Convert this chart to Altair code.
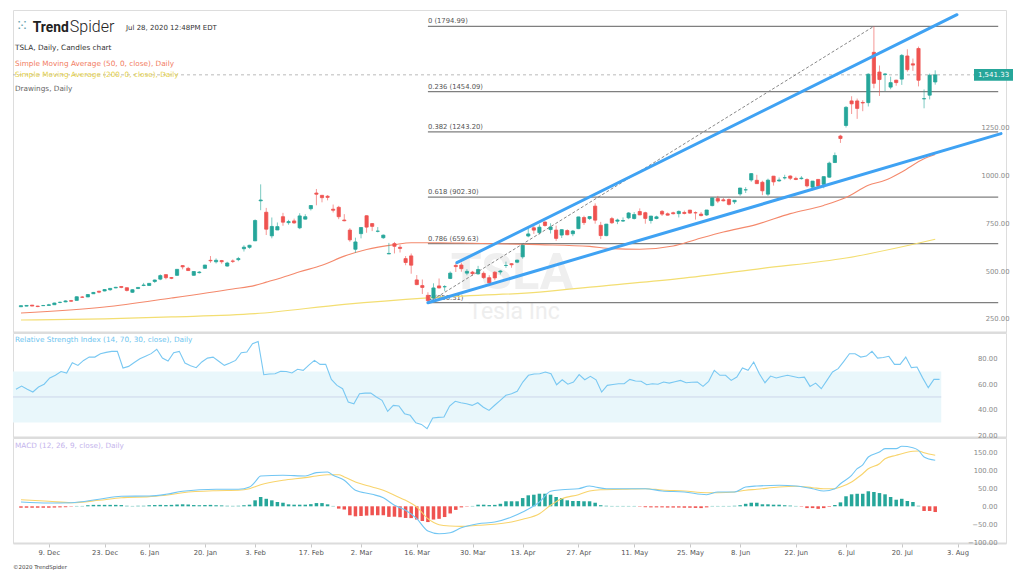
import altair as alt
import pandas as pd

# ---------------- data ----------------
opens = [329.4, 332.6, 337.8, 332.8, 335.0, 336.6, 340.0, 351.9, 354.9, 361.1,
         362.6, 380.0, 380.6, 397.3, 410.3, 411.8, 418.4, 427.9, 435.0, 428.8,
         405.0, 424.5, 440.5, 440.5, 461.4, 473.7, 497.1, 481.8, 493.5, 544.3,
         529.8, 493.8, 507.6, 530.3, 571.9, 564.3, 570.6, 542.0, 568.5, 575.7,
         632.4, 640.0, 673.7, 883.0, 823.3, 699.9, 730.6, 800.0, 768.8, 777.9,
         741.8, 787.2, 841.6, 923.5, 911.7, 907.0, 839.0, 849.0, 782.5, 730.0,
         629.7, 711.3, 805.0, 764.0, 723.8, 690.0, 605.4, 659.4, 640.2, 580.9,
         595.0, 469.5, 440.0, 389.0, 374.7, 438.2, 433.6, 477.3, 545.3, 547.4,
         505.0, 510.3, 501.3, 504.0, 481.0, 509.5, 511.2, 545.0, 554.2, 562.1,
         590.2, 699.0, 742.0, 716.9, 772.3, 732.7, 730.1, 704.0, 727.6, 710.8,
         737.6, 795.6, 790.2, 855.2, 755.0, 701.0, 789.8, 776.5, 777.2, 793.8,
         790.5, 827.0, 820.8, 780.0, 790.4, 827.8, 815.2, 820.5, 816.0, 822.2,
         834.5, 820.9, 813.5, 808.8, 858.0, 894.7, 888.1, 889.9, 877.8, 919.0,
         940.0, 991.9, 990.2, 980.0, 917.8, 1011.9, 987.0, 1003.0, 1012.6, 1000.0,
         998.9, 994.1, 954.3, 994.8, 969.0, 1006.5, 1083.0, 1221.5, 1276.7, 1405.0,
         1405.0, 1397.0, 1396.0, 1659.0, 1556.0, 1543.0, 1477.2, 1513.5, 1519.0, 1639.9,
         1599.0, 1679.0, 1416.0, 1435.0, 1504.0]
highs = [336.4, 337.9, 337.9, 334.4, 338.9, 344.5, 350.5, 356.1, 362.7, 365.2,
         383.6, 385.5, 395.2, 406.9, 413.0, 422.0, 425.5, 433.5, 435.3, 429.0,
         421.3, 430.7, 454.0, 451.6, 471.6, 498.5, 498.8, 484.9, 525.6, 547.4,
         537.8, 514.5, 515.7, 548.6, 594.5, 582.0, 573.9, 564.4, 576.8, 589.8,
         650.9, 653.0, 786.1, 969.0, 846.0, 795.8, 769.8, 820.0, 783.5, 789.8,
         818.0, 813.0, 860.0, 944.8, 912.0, 913.1, 863.5, 856.6, 813.3, 739.8,
         690.4, 743.7, 807.0, 766.5, 745.8, 707.0, 663.0, 668.0, 653.6, 594.5,
         607.6, 494.9, 471.9, 404.9, 452.0, 477.0, 442.0, 513.7, 557.0, 560.0,
         525.8, 516.7, 543.0, 514.0, 494.3, 515.5, 521.0, 565.0, 557.2, 575.2,
         652.0, 741.9, 753.1, 759.5, 775.0, 765.6, 753.3, 734.0, 734.0, 730.7,
         799.5, 805.0, 803.2, 869.8, 772.8, 762.0, 798.9, 789.8, 796.4, 824.0,
         824.0, 843.3, 826.0, 803.4, 805.1, 834.7, 822.1, 826.0, 832.5, 831.8,
         834.6, 827.7, 824.8, 835.0, 899.0, 908.7, 897.9, 895.8, 886.5, 950.0,
         954.4, 1027.5, 1019.0, 988.0, 998.8, 1012.9, 1005.0, 1019.1, 1016.0, 1008.9,
         1012.0, 1000.9, 986.0, 995.0, 1010.0, 1087.7, 1135.3, 1228.0, 1377.8, 1429.5,
         1417.3, 1408.6, 1548.9, 1795.0, 1590.0, 1550.0, 1531.7, 1515.5, 1650.0, 1675.0,
         1626.4, 1689.0, 1465.0, 1547.9, 1565.0]
lows = [328.7, 332.2, 332.9, 327.3, 334.8, 335.5, 339.5, 347.5, 353.2, 354.6,
        362.5, 375.9, 380.6, 396.5, 400.2, 410.0, 412.7, 426.4, 426.1, 409.3,
        402.1, 421.7, 436.9, 440.0, 453.4, 468.2, 472.9, 473.7, 492.0, 524.9,
        516.8, 492.2, 503.2, 528.4, 559.1, 555.6, 554.3, 539.3, 558.1, 567.4,
        618.0, 632.5, 673.5, 833.9, 704.1, 687.0, 730.0, 752.4, 758.0, 763.4,
        735.0, 785.5, 832.4, 859.6, 875.0, 885.4, 822.0, 787.0, 776.1, 669.0,
        611.5, 686.7, 716.1, 724.7, 718.1, 684.3, 605.0, 608.0, 613.0, 546.3,
        502.0, 442.2, 396.0, 350.5, 358.5, 425.8, 410.5, 474.0, 511.1, 512.3,
        494.0, 491.2, 497.0, 475.1, 446.4, 468.3, 498.0, 532.3, 533.3, 557.1,
        580.5, 692.4, 710.0, 706.7, 747.7, 712.2, 673.8, 688.7, 703.1, 698.2,
        735.0, 756.7, 783.2, 763.5, 683.0, 698.0, 762.2, 761.1, 772.4, 787.0,
        785.0, 808.0, 763.3, 764.0, 786.6, 803.9, 806.1, 811.8, 796.0, 812.0,
        815.7, 785.0, 801.7, 804.2, 854.1, 871.0, 880.1, 858.4, 866.2, 909.2,
        923.9, 982.5, 972.0, 912.6, 908.5, 962.4, 982.6, 994.5, 991.3, 991.0,
        994.0, 953.1, 937.2, 954.9, 948.5, 1003.7, 1080.5, 1185.6, 1266.0, 1336.7,
        1311.3, 1351.3, 1376.0, 1471.1, 1431.0, 1457.0, 1466.0, 1484.5, 1488.8, 1558.0,
        1562.0, 1480.9, 1366.5, 1413.0, 1490.0]
closes = [334.9, 336.2, 333.0, 330.4, 335.9, 339.5, 348.8, 352.7, 359.7, 358.4,
          381.5, 379.0, 393.2, 404.0, 405.6, 419.2, 425.3, 430.9, 430.4, 414.7,
          418.3, 430.3, 443.0, 451.5, 469.1, 492.1, 481.3, 478.2, 524.9, 537.9,
          518.5, 513.5, 510.5, 547.2, 569.6, 572.2, 564.8, 558.0, 566.9, 581.0,
          640.8, 650.6, 780.0, 887.1, 734.7, 749.0, 748.1, 771.3, 774.4, 767.3,
          804.0, 800.0, 858.4, 917.4, 899.4, 901.0, 833.8, 799.9, 778.8, 679.0,
          668.0, 743.6, 745.5, 749.5, 724.5, 703.5, 608.0, 645.3, 634.2, 560.6,
          546.6, 445.1, 430.2, 361.2, 427.6, 427.5, 434.3, 505.0, 539.3, 528.2,
          514.4, 502.1, 524.0, 481.6, 454.5, 480.0, 516.2, 545.5, 548.8, 573.0,
          651.0, 709.9, 729.8, 745.2, 753.9, 746.4, 686.7, 732.1, 705.6, 725.2,
          798.8, 769.1, 800.5, 781.9, 701.3, 761.2, 768.2, 782.6, 780.0, 819.4,
          811.3, 809.4, 791.0, 803.3, 799.2, 813.6, 808.0, 815.6, 827.6, 816.9,
          818.9, 820.2, 805.8, 835.0, 898.1, 881.6, 883.0, 864.4, 885.7, 949.9,
          940.7, 1025.1, 972.8, 935.3, 990.9, 982.1, 991.8, 1004.0, 1000.9, 994.3,
          1001.8, 960.9, 986.0, 959.7, 1009.4, 1079.8, 1119.6, 1208.7, 1371.6, 1389.9,
          1365.9, 1394.3, 1544.7, 1497.1, 1516.8, 1546.0, 1500.6, 1500.8, 1643.0, 1568.4,
          1592.3, 1513.1, 1417.0, 1539.6, 1541.33]

rsi_vals = [56, 58.6, 56, 53.9, 57.8, 60, 64.9, 67, 70, 68.8,
            76.9, 74.8, 78.7, 81.3, 81.3, 83.9, 85, 85.8, 85.8, 72.7,
            74, 77, 80, 82, 84, 87.4, 80.5, 78.2, 84.7, 85.8,
            76.6, 74.5, 73, 77.5, 80.5, 81.3, 78, 74.8, 76.6, 78.7,
            84.7, 85.3, 91.8, 93.6, 67.5, 68, 68.2, 70.1, 70, 68.8,
            71.7, 70.9, 75, 78.7, 75.6, 75.6, 63.8, 59.1, 56.5, 46,
            44.7, 52.5, 53, 53.1, 50, 47.4, 38.7, 43.4, 42.9, 36.9,
            35.6, 29.8, 28.5, 25.1, 33.5, 34, 34.3, 42.9, 46.6, 45.5,
            44.7, 43.4, 45.5, 42, 39.5, 43.5, 47.4, 51.3, 52.5, 54.4,
            61.7, 67, 68, 68.2, 69.6, 68.2, 59.6, 63.5, 60, 61.7,
            67.5, 63.5, 66.2, 63.5, 53.9, 59.1, 59.8, 60.4, 60.4, 63.8,
            62.5, 62.3, 59.6, 60.4, 60, 61.7, 60.9, 62, 63, 61.2,
            61.5, 61.7, 58.3, 62.3, 70.9, 67, 67, 63, 65.6, 72.7,
            70.9, 77.4, 68.2, 61.2, 66.4, 64.9, 66, 67, 66, 65.1,
            65.6, 58.3, 60.9, 56.5, 63, 69.6, 72.2, 78, 83.9, 83.9,
            81.3, 82.1, 85.8, 80.5, 81, 81.9, 75.6, 75.6, 81.3, 73,
            73.5, 65, 57.3, 63.8, 63.8]

hist_vals = [-4, -4, -4, -4, -4, -4, -3.5, -3, -2.5, -1,
             1, 1, 3, 4, 4, 4, 4, 4, 3.5, 1.5,
             1, 1.5, 1.5, 3, 3.5, 4, 3.5, 4, 5, 5.6,
             5, 3.5, 3, 3.5, 4, 3, 2.5, 1.5, 1.2, 1.5,
             3, 4.5, 16.7, 26, 21, 16.7, 12, 10, 5.5, 4.5,
             4.5, 4.5, 6, 9, 9, 5.5, 1, -6.5, -9, -25,
             -28, -27, -26, -25, -25, -25, -29.5, -29, -30.5, -32.5,
             -33, -37, -41, -44, -37, -35, -30, -20, -10, -3,
             -1, 1, 4.5, 4.5, 3.5, 4, 7, 14, 14, 14,
             23, 30.7, 32.4, 35.2, 35.2, 32.4, 26, 23, 16.7, 14.8,
             14.8, 14, 14, 10, 3, 1.5, 1, 1, 1, 1,
             1, -1, -2.5, -3, -3, -3, -3.5, -3.5, -3.5, -4,
             -4, -4.5, -5, -3, 1, 1, 1, 1, 1.5, 3,
             7, 10, 10, 5.6, 5.6, 4.5, 4.5, 3, 2, 1,
             -1, -5, -5, -7, -5, -1.5, 3.7, 11, 28, 33.5,
             35, 35, 42, 40, 37, 33.5, 26, 18.4, 21, 14.8,
             12, 1.5, -13, -13, -16]

macd_idx = [0, 5, 9, 14, 18, 23, 26, 29, 35, 39, 41, 42, 43, 47, 51, 53, 55, 56, 58, 60,
            63, 65, 67, 69, 71, 73, 75, 77, 79, 82, 85, 88, 90, 93, 95, 97, 100, 102, 103, 105,
            108, 112, 115, 119, 123, 125, 128, 130, 132, 136, 139, 142, 144, 146, 147, 149, 150,
            151, 152, 154, 155, 157, 158, 160, 161, 162, 164]
macd_vals = [12, 9.2, 10, 19.6, 28, 28.8, 33.5, 41.9, 47.5, 47.5, 53.9, 68, 84.6, 86.6, 84.6, 94, 95.8, 86.6, 72.6, 44.7,
             33.5, 24, 2.8, -11, -34.6, -69, -76.5, -73.7, -59.7, -48.6, -43.9, -30, -16, 12, 41.9, 46.4, 49.2, 56.7, 53.9, 49.2,
             49.2, 49.2, 42.7, 40, 32.4, 40, 40, 53.9, 56.7, 58.7, 56.7, 49.2, 42.7, 49.2, 63, 86.6, 105,
             116, 137.7, 151.7, 161, 161, 167.6, 163.7, 156.4, 137.7, 128.5]
sig_idx = [0, 5, 9, 14, 18, 23, 26, 29, 35, 39, 41, 43, 47, 51, 53, 55, 57, 58, 60, 63,
           65, 67, 69, 71, 73, 75, 77, 79, 82, 85, 88, 90, 93, 95, 97, 100, 102, 104, 108, 112,
           115, 119, 123, 125, 128, 130, 132, 136, 139, 142, 144, 146, 147, 149, 150, 151, 152, 154,
           155, 157, 158, 160, 161, 162, 164]
sig_vals = [18.4, 14, 10, 16.8, 24, 27, 30.7, 38, 43.6, 44.7, 49.2, 60.3, 72.6, 80, 84.6, 88.3, 88.3, 81.8, 67.9, 53.9,
            44.7, 30.7, 16.7, -2, -34.6, -51.3, -55, -56, -53, -50.3, -43.9, -36.3, -20.7, 2.8, 21.2, 32.4, 42.7, 46.4, 47.5, 49.2,
            45.5, 42.7, 38, 38, 40, 44.7, 47.5, 53.9, 55.9, 52, 49.2, 49.2, 53.9, 67.9, 79, 91, 105, 119,
            133, 142.5, 147, 153.6, 154.5, 149.7, 142.5]

sma50_idx = [0, 15, 27, 38, 42, 44, 48, 50, 54, 58, 62, 67, 70, 75, 81, 93, 102, 106, 111, 117,
             121, 126, 132, 138, 144, 148, 152, 155, 158, 162, 164]
sma50_vals = [297, 328, 375, 422, 441, 458, 493, 512, 546, 594, 629, 654, 664, 664, 661, 654, 645, 633, 630, 647,
              680, 720, 760, 816, 859, 900, 964, 990, 1034, 1103, 1125]
sma200_idx = [0, 15, 27, 42, 58, 73, 93, 105, 118, 133, 148, 164]
sma200_vals = [260, 266, 276, 293, 342, 376, 406, 440, 476, 530, 584, 682]

fib_ratios = ["0", "0.236", "0.382", "0.618", "0.786", "1"]
fib_values = [1794.99, 1454.09, 1243.20, 902.30, 659.63, 350.51]
fib_start, fib_end = 73, 175.3

swing_idx = [73, 153]
swing_vals = [350.51, 1794.99]
upper_idx = [78.2, 167.9]
upper_vals = [559.6, 1855.6]
lower_idx = [73, 175.8]
lower_vals = [350.51, 1234.0]

last_price = 1541.33
last_label = "1,541.33"

tick_idx = [5, 15, 23, 33, 42, 52, 61, 71, 81, 90, 100, 110, 120, 129, 139, 148, 158, 168]
tick_labels = ["9. Dec", "23. Dec", "6. Jan", "20. Jan", "3. Feb", "17. Feb", "2. Mar", "16. Mar",
               "30. Mar", "13. Apr", "27. Apr", "11. May", "25. May", "8. Jun", "22. Jun", "6. Jul",
               "20. Jul", "3. Aug"]

# ---------------- layout / style ----------------
W = 993
PRICE_H, RSI_H, MACD_H = 322, 104, 105
FONT = "DejaVu Sans"
UP, DOWN = "#26a69a", "#ef5350"

xs = alt.Scale(domain=[-0.53, 175.8], nice=False, zero=False)
ps = alt.Scale(domain=[197.4, 1880.2], nice=False, zero=False)
rs = alt.Scale(domain=[18.6, 100.2], nice=False, zero=False)
ms = alt.Scale(domain=[-102.5, 190.8], nice=False, zero=False)
dir_scale = alt.Scale(domain=["up", "down"], range=[UP, DOWN])

x_plain = alt.Axis(labels=False, ticks=False, grid=False, domainColor="#dcdcdc",
                   domainWidth=2, title=None)
label_js = ("[" + ",".join("'%s'" % s for s in tick_labels) + "][indexof(["
            + ",".join(str(t) for t in tick_idx) + "], datum.value)]")
x_bottom = alt.Axis(values=tick_idx, labelExpr=label_js, grid=False, domainColor="#dcdcdc",
                    domainWidth=2, tickColor="#c8c8c8", tickSize=4, labelPadding=2,
                    labelColor="#555", labelFont=FONT, labelFontSize=6.8, title=None,
                    labelOverlap=False, labelFlush=False)


def yaxis(values, offset, baseline="middle"):
    return alt.Axis(orient="right", values=values, format=".2f", grid=False, domain=False,
                    ticks=False, tickSize=0, labelPadding=0, offset=offset, labelAlign="right",
                    labelBaseline=baseline, labelColor="#8a8a8a", labelFont=FONT,
                    labelFontSize=6.8, title=None)


p_axis = yaxis([250, 500, 750, 1000, 1250], 3, "bottom")
r_axis = yaxis([20, 40, 60, 80], -9)
m_axis = yaxis([-100, -50, 0, 50, 100, 150], -9)


def X(f, axis):
    return alt.X(f, type="quantitative", scale=xs, axis=axis)


def Y(f, scale, axis):
    return alt.Y(f, type="quantitative", scale=scale, axis=axis)


def T(s, x, y, size=7.3, color="#333", weight="normal", font=FONT, align="left",
      baseline="alphabetic"):
    return alt.Chart(pd.DataFrame({"t": [s]})).mark_text(
        align=align, baseline=baseline, fontSize=size, color=color, fontWeight=weight, font=font
    ).encode(x=alt.value(x), y=alt.value(y), text="t:N")


# ---------------- price panel ----------------
n = len(closes)
cdf = pd.DataFrame({"i": list(range(n)), "open": opens, "high": highs, "low": lows, "close": closes})
cdf["dir"] = ["up" if c >= o else "down" for o, c in zip(opens, closes)]

fdf = pd.DataFrame({"v": fib_values, "s": fib_start, "e": fib_end,
                    "lbl": ["%s (%.2f)" % (r, v) for r, v in zip(fib_ratios, fib_values)]})
s50 = pd.DataFrame({"i": sma50_idx, "v": sma50_vals})
s200 = pd.DataFrame({"i": sma200_idx, "v": sma200_vals})
swing = pd.DataFrame({"i": swing_idx, "v": swing_vals})
chan = pd.DataFrame({"i": upper_idx + lower_idx, "v": upper_vals + lower_vals,
                     "line": ["upper"] * 2 + ["lower"] * 2})
lp = pd.DataFrame({"v": [last_price], "lbl": [last_label]})

wm1 = T("TSLA", 499, 279, size=50, color="#efefef", weight="bold", font="Roboto", align="center")
wm2 = T("Tesla Inc", 501, 309, size=23, color="#eeeeee", font="Roboto", align="center")

fib_lines = alt.Chart(fdf).mark_rule(color="#7f7f7f", strokeWidth=1.3).encode(
    x=X("s", x_plain), x2="e", y=Y("v", ps, p_axis))
fib_text = alt.Chart(fdf).mark_text(align="left", baseline="alphabetic", dy=-3, fontSize=6.8,
                                    font=FONT, color="#555").encode(
    x=X("s", x_plain), y=Y("v", ps, p_axis), text="lbl:N")

sma200_line = alt.Chart(s200).mark_line(color="#f3de72", strokeWidth=1.2, interpolate="monotone").encode(
    x=X("i", x_plain), y=Y("v", ps, p_axis))
sma50_line = alt.Chart(s50).mark_line(color="#f4896c", strokeWidth=1.1, interpolate="monotone").encode(
    x=X("i", x_plain), y=Y("v", ps, p_axis))

last_rule = alt.Chart(lp).mark_rule(color="#a8a8a8", strokeWidth=0.8, strokeDash=[3, 3]).encode(
    y=Y("v", ps, p_axis), x=alt.value(0), x2=alt.value(961))

wicks = alt.Chart(cdf).mark_rule(strokeWidth=1, opacity=0.6).encode(
    x=X("i", x_plain), y=Y("low", ps, p_axis), y2="high",
    color=alt.Color("dir:N", scale=dir_scale, legend=None))
bodies = alt.Chart(cdf).mark_bar(size=3.2, strokeWidth=0.8).encode(
    x=X("i", x_plain), y=Y("open", ps, p_axis), y2="close",
    color=alt.Color("dir:N", scale=dir_scale, legend=None),
    stroke=alt.Stroke("dir:N", scale=dir_scale, legend=None))

swing_line = alt.Chart(swing).mark_line(color="#7a7a7a", strokeWidth=0.9, strokeDash=[3, 2]).encode(
    x=X("i", x_plain), y=Y("v", ps, p_axis))
chan_lines = alt.Chart(chan).mark_line(color="#3fa2f3", strokeWidth=3, strokeCap="round").encode(
    x=X("i", x_plain), y=Y("v", ps, p_axis), detail="line:N")

tag = alt.Chart(lp).mark_point(shape="M-1,-0.3L1,-0.3L1,0.3L-1,0.3Z", size=1521, filled=True,
                               color=UP, opacity=1, strokeWidth=0).encode(
    x=alt.value(980.5), y=Y("v", ps, p_axis))
tag_text = alt.Chart(lp).mark_text(color="white", fontSize=7, font=FONT).encode(
    x=alt.value(980.5), y=Y("v", ps, p_axis), text="lbl:N")

header = [
    T("\u2059", 9, 16, size=15, color="#6fa8b3", align="center", baseline="middle"),
    T("Trend", 19.7, 21.5, size=13.8, color="#222", weight="bold", font="Roboto"),
    T("Spider", 56.8, 21.5, size=16, color="#222", weight=300, font="Roboto"),
    T("Jul 28, 2020 12:48PM EDT", 113, 19.7, size=7, color="#333"),
    T("TSLA, Daily, Candles chart", 2, 39.5, color="#333"),
    T("Simple Moving Average (50, 0, close), Daily", 2, 56, color="#f27d62"),
    T("Simple Moving Average (200, 0, close), Daily", 2, 67, color="#e6d24a"),
    T("Drawings, Daily", 2, 80.5, color="#666"),
]

price = alt.layer(wm1, wm2, fib_lines, fib_text, sma200_line, sma50_line, last_rule,
                  wicks, bodies, swing_line, chan_lines, tag, tag_text, *header
                  ).properties(width=W, height=PRICE_H)

# ---------------- RSI panel ----------------
rdf = pd.DataFrame({"i": list(range(n)), "v": rsi_vals})
band = pd.DataFrame({"s": [-0.53], "e": [164.3], "lo": [30], "hi": [70], "mid": [50]})
band_rect = alt.Chart(band).mark_rect(color="#e9f7fb").encode(
    x=X("s", x_plain), x2="e", y=Y("lo", rs, r_axis), y2="hi")
band_mid = alt.Chart(band).mark_rule(color="#cdd6ea", strokeWidth=1).encode(
    x=X("s", x_plain), x2="e", y=Y("mid", rs, r_axis))
rsi_line = alt.Chart(rdf).mark_line(color="#79c8f2", strokeWidth=1.1).encode(
    x=X("i", x_plain), y=Y("v", rs, r_axis))
rsi_title = T("Relative Strength Index (14, 70, 30, close), Daily", 2, 8.5, color="#6ec5ef")
rsi = alt.layer(band_rect, band_mid, rsi_line, rsi_title).properties(width=W, height=RSI_H)

# ---------------- MACD panel ----------------
hdf = pd.DataFrame({"i": list(range(n)), "h": hist_vals, "z": 0})
hdf["dir"] = ["up" if h >= 0 else "down" for h in hist_vals]
mdf = pd.DataFrame({"i": macd_idx, "v": macd_vals})
sdf = pd.DataFrame({"i": sig_idx, "v": sig_vals})
hist = alt.Chart(hdf).mark_bar(size=3.5).encode(
    x=X("i", x_bottom), y=Y("h", ms, m_axis), y2="z",
    color=alt.Color("dir:N", scale=dir_scale, legend=None))
sig_line = alt.Chart(sdf).mark_line(color="#f8d46c", strokeWidth=1.1, interpolate="monotone").encode(
    x=X("i", x_bottom), y=Y("v", ms, m_axis))
macd_line = alt.Chart(mdf).mark_line(color="#72c6f3", strokeWidth=1.1, interpolate="monotone").encode(
    x=X("i", x_bottom), y=Y("v", ms, m_axis))
macd_title = T("MACD (12, 26, 9, close), Daily", 2, 9.5, color="#c4b4ec")
footer = T("\u00a92020 TrendSpider", 0, 131, size=5.5, color="#444")
macd = alt.layer(hist, sig_line, macd_line, macd_title, footer).properties(width=W, height=MACD_H)

chart = alt.vconcat(price, rsi, macd, spacing=1, bounds="flush").properties(
    padding={"left": 4, "top": 0, "right": 0, "bottom": 0}
).configure_view(stroke=None).configure(background="white")

chart.save("out.html", embed_options={"renderer": "svg", "actions": False})
